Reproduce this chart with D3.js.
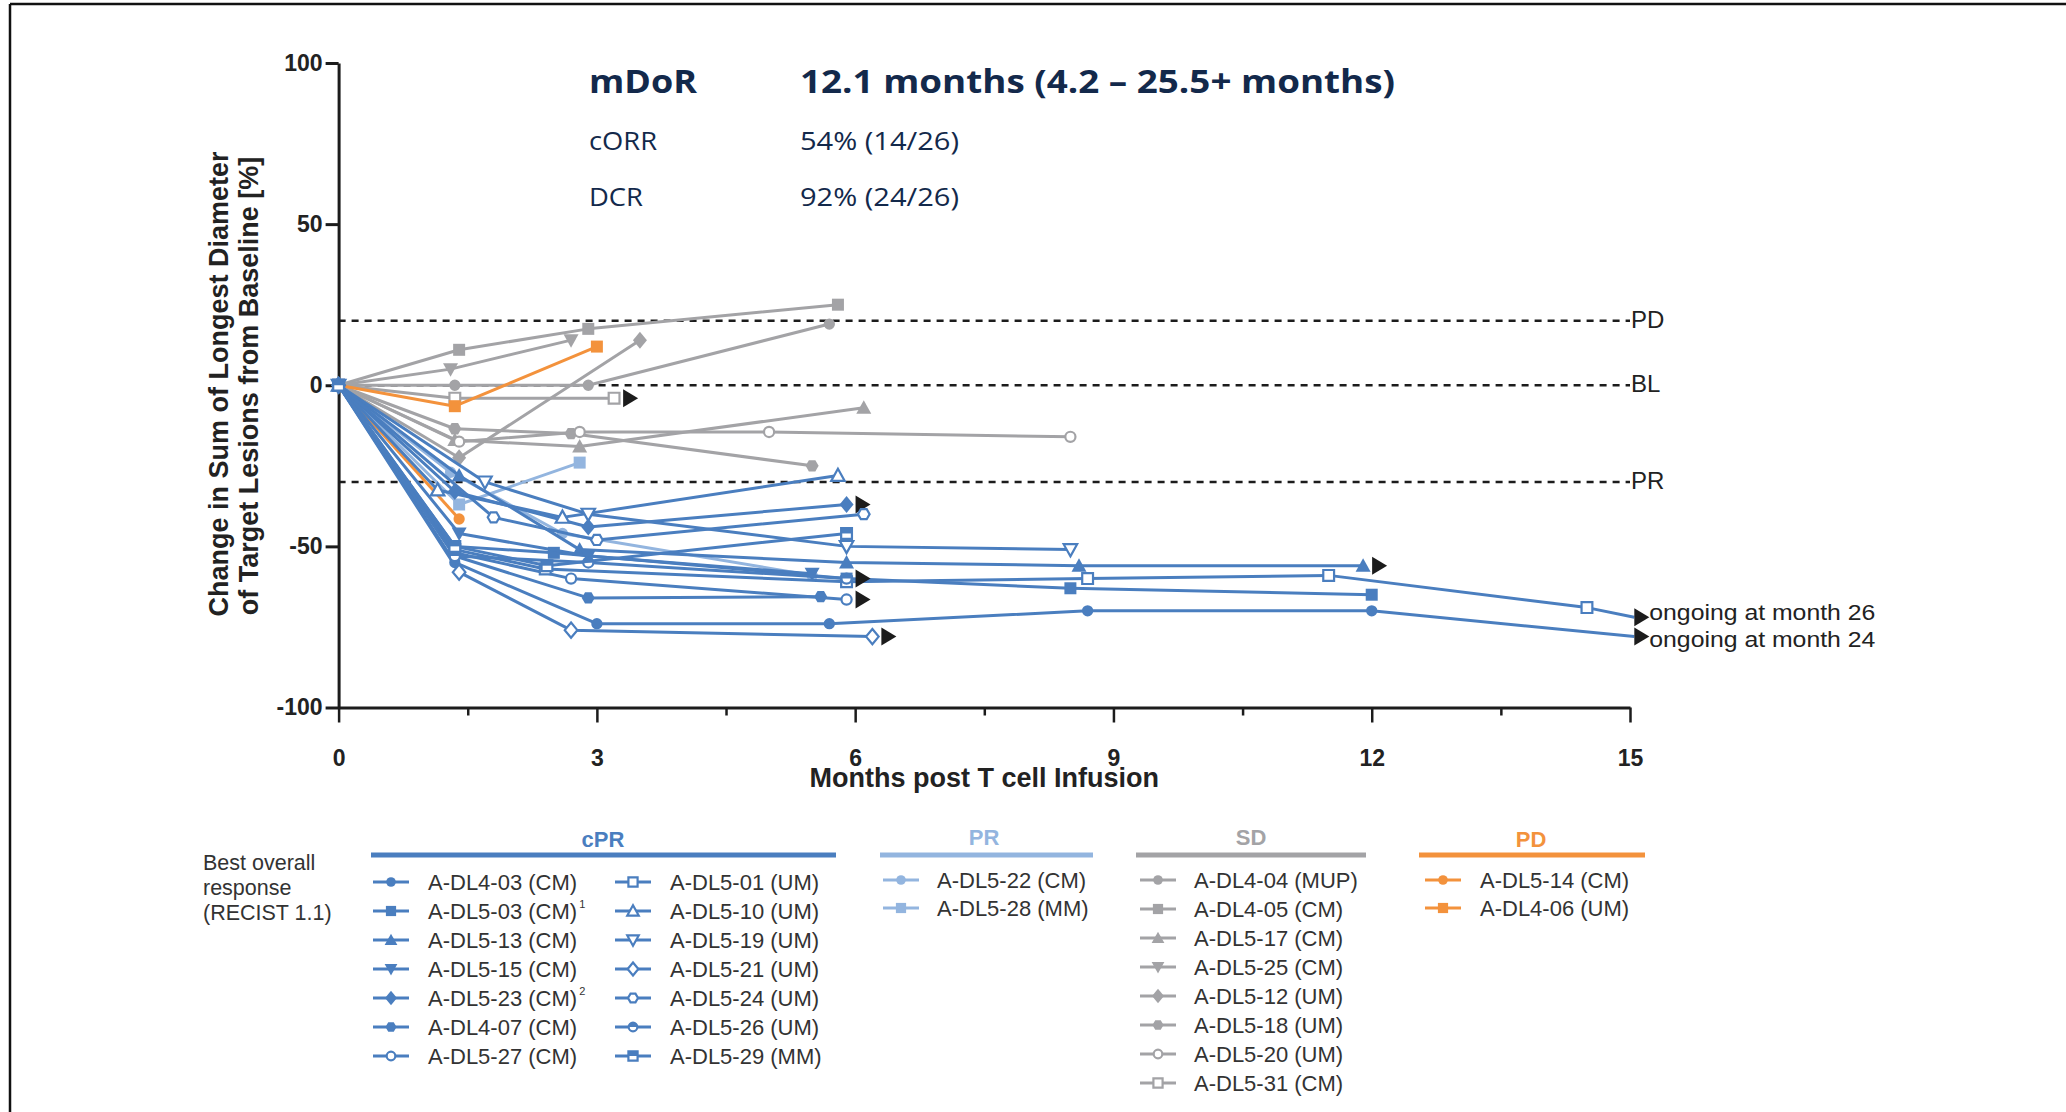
<!DOCTYPE html>
<meta charset="utf-8">
<script src="https://d3js.org/d3.v7.min.js"></script>
<style>
  html, body { margin: 0; background: #fff; }
  svg { display: block; font-family: 'Liberation Sans', Arial, sans-serif; }
</style>
<body>
<div id="chart"></div>
<script>

// ---------- data ----------
var xTicks = [0, 3, 6, 9, 12, 15]
var xMinorTicks = [1.5, 4.5, 7.5, 10.5, 13.5]
var yTicks = [100, 50, 0, -50, -100]
var refLevels = [20, 0, -30]
var refLabels = ["PD", "BL", "PR"]

var groupNames = ["cPR", "PR", "SD", "PD"]

// confirmed partial response
var cprNames = ["A-DL4-03 (CM)", "A-DL5-03 (CM)", "A-DL5-13 (CM)", "A-DL5-15 (CM)", "A-DL5-23 (CM)",
                "A-DL4-07 (CM)", "A-DL5-27 (CM)", "A-DL5-01 (UM)", "A-DL5-10 (UM)", "A-DL5-19 (UM)",
                "A-DL5-21 (UM)", "A-DL5-24 (UM)", "A-DL5-26 (UM)", "A-DL5-29 (MM)"]
var cprNotes = ["", "1", "", "", "2", "", "", "", "", "", "", "", "", ""]
var cprShapes = ["circle", "square", "triangle", "triangleDown", "diamond", "hexagon", "circle",
                 "square", "triangle", "triangleDown", "diamond", "hexagon", "circle", "square"]
var cprFills = ["filled", "filled", "filled", "filled", "filled", "filled", "open",
                "open", "open", "open", "open", "open", "half", "half"]
var cprMonths = [
  [0, 1.35, 3.0, 5.7, 8.7, 12.0, 15.05],
  [0, 1.35, 2.5, 5.9, 8.5, 12.0],
  [0, 1.4, 2.8, 5.9, 8.6, 11.9],
  [0, 1.4, 2.9, 5.5],
  [0, 1.35, 2.9, 5.9],
  [0, 1.35, 2.9, 5.6],
  [0, 1.35, 2.7, 5.9],
  [0, 1.35, 2.4, 5.9, 8.7, 11.5, 14.5, 15.05],
  [0, 1.15, 2.6, 5.8],
  [0, 1.7, 2.9, 5.9, 8.5],
  [0, 1.4, 2.7, 6.2],
  [0, 1.8, 3.0, 6.1],
  [0, 1.35, 2.9, 5.9],
  [0, 1.35, 2.42, 5.9]
]
var cprChange = [
  [0, -55, -74, -74, -70, -70, -78],
  [0, -50, -52, -60, -63, -65],
  [0, -28, -51, -55, -56, -56],
  [0, -46, -53, -58.5],
  [0, -33, -44, -37],
  [0, -53, -66, -65.6],
  [0, -52, -60, -66.5],
  [0, -51, -57, -61, -60, -59, -69, -72],
  [0, -32.5, -41, -28],
  [0, -30, -40, -50, -51],
  [0, -58, -76, -78],
  [0, -41, -48, -40],
  [0, -53, -55, -60],
  [0, -50, -56, -46]
]
var cprOngoing = [false, false, true, false, true, false, true, false, false, false, true, false, true, false]
var cprOngoingText = ["ongoing at month 24", "", "", "", "", "", "", "ongoing at month 26", "", "", "", "", "", ""]

// partial response (unconfirmed)
var prNames = ["A-DL5-22 (CM)", "A-DL5-28 (MM)"]
var prShapes = ["circle", "square"]
var prFills = ["filled", "filled"]
var prMonths = [[0, 1.3, 2.6, 5.5], [0, 1.4, 2.8]]
var prChange = [[0, -27, -46, -59], [0, -37, -24]]
var prOngoing = [false, false]

// stable disease
var sdNames = ["A-DL4-04 (MUP)", "A-DL4-05 (CM)", "A-DL5-17 (CM)", "A-DL5-25 (CM)",
               "A-DL5-12 (UM)", "A-DL5-18 (UM)", "A-DL5-20 (UM)", "A-DL5-31 (CM)"]
var sdShapes = ["circle", "square", "triangle", "triangleDown", "diamond", "hexagon", "circle", "square"]
var sdFills = ["filled", "filled", "filled", "filled", "filled", "filled", "open", "open"]
var sdMonths = [
  [0, 1.35, 2.9, 5.7],
  [0, 1.4, 2.9, 5.8],
  [0, 1.35, 2.8, 6.1],
  [0, 1.3, 2.7],
  [0, 1.4, 3.5],
  [0, 1.35, 2.7, 5.5],
  [0, 1.4, 2.8, 5.0, 8.5],
  [0, 1.35, 3.2]
]
var sdChange = [
  [0, 0, 0, 19],
  [0, 11, 17.5, 25],
  [0, -17, -19, -7],
  [0, 5, 14],
  [0, -22.5, 14],
  [0, -13.5, -15, -25],
  [0, -17.5, -14.5, -14.5, -16],
  [0, -4, -4]
]
var sdOngoing = [false, false, false, false, false, false, false, true]

// progressive disease
var pdNames = ["A-DL5-14 (CM)", "A-DL4-06 (UM)"]
var pdShapes = ["circle", "square"]
var pdFills = ["filled", "filled"]
var pdMonths = [[0, 1.4], [0, 1.35, 3.0]]
var pdChange = [[0, -41.5], [0, -6.5, 12]]
var pdOngoing = [false, false]

// ---------- layout ----------
var width = 2066
    height = 1112

var colors = { cPR: "#4a7ebf", PR: "#93b5df", SD: "#a3a3a6", PD: "#f3923c" }
var ink = "#1c1c1c"

var svg = d3.select("#chart")
  .append("svg")
    .attr("width", width)
    .attr("height", height)

svg.append("rect").attr("width", width).attr("height", height).attr("fill", "#fff")

// frame lines top and left
svg.append("line").attr("x1", 10).attr("x2", width).attr("y1", 4).attr("y2", 4)
  .attr("stroke", "#111").attr("stroke-width", 2.5)
svg.append("line").attr("x1", 10).attr("x2", 10).attr("y1", 4).attr("y2", height)
  .attr("stroke", "#111").attr("stroke-width", 2.5)

var x = d3.scaleLinear().domain([0, 15]).range([338.6, 1630])
var y = d3.scaleLinear().domain([-100, 100]).range([707.5, 63])

// ---------- marker helpers ----------
function shapePath(shape, k) {
  k = k || 1
  if (shape === "circle") return d3.symbol(d3.symbolCircle, 100 * k * k)()
  if (shape === "square") { var s = 6 * k; return "M" + -s + "," + -s + "H" + s + "V" + s + "H" + -s + "Z" }
  if (shape === "triangle") { var t = 7.5 * k; return "M0," + (-t) + "L" + t + "," + (t * 0.8) + "L" + -t + "," + (t * 0.8) + "Z" }
  if (shape === "triangleDown") { var t = 7.5 * k; return "M0," + t + "L" + t + "," + (-t * 0.8) + "L" + -t + "," + (-t * 0.8) + "Z" }
  if (shape === "diamond") { var a = 7 * k, b = 8.5 * k; return "M0," + -b + "L" + a + ",0L0," + b + "L" + -a + ",0Z" }
  if (shape === "hexagon") {
    var r = 6.5 * k, pts = d3.range(6).map(function(i) { var an = i * Math.PI / 3; return [r * Math.cos(an), r * Math.sin(an)] })
    return "M" + pts.join("L") + "Z"
  }
}

function halfPath(shape, k) {
  k = k || 1
  if (shape === "circle") { var r = 5.6 * k; return "M" + -r + ",0A" + r + "," + r + " 0 0 1 " + r + ",0Z" }
  var s = 6 * k
  return "M" + -s + "," + -s + "H" + s + "V0H" + -s + "Z"
}

function drawMarker(g, shape, fill, color, px, py, k) {
  k = k || 1
  var m = g.append("g").attr("transform", "translate(" + px + "," + py + ")")
  if (fill === "filled") {
    m.append("path").attr("d", shapePath(shape, k)).attr("fill", color)
  } else {
    m.append("path").attr("d", shapePath(shape, k * 0.9)).attr("fill", "#fff")
      .attr("stroke", color).attr("stroke-width", 2.2)
    if (fill === "half") m.append("path").attr("d", halfPath(shape, k * 0.9)).attr("fill", color)
  }
}

function arrowHead(g, px, py) {
  g.append("path")
    .attr("d", "M" + px + "," + (py - 9) + "L" + (px + 15) + "," + py + "L" + px + "," + (py + 9) + "Z")
    .attr("fill", ink)
}

// ---------- header stats ----------
var head = svg.append("g").attr("fill", "#13294b").style("font-family", "'Open Sans', 'Noto Sans', sans-serif")
head.append("text").attr("x", 589).attr("y", 93).attr("font-size", 32).attr("font-weight", 700)
  .attr("textLength", 108).attr("lengthAdjust", "spacingAndGlyphs").text("mDoR")
head.append("text").attr("x", 800).attr("y", 93).attr("font-size", 32).attr("font-weight", 700)
  .attr("textLength", 595).attr("lengthAdjust", "spacingAndGlyphs").text("12.1 months (4.2 – 25.5+ months)")
head.append("text").attr("x", 589).attr("y", 150).attr("font-size", 25)
  .attr("textLength", 68).attr("lengthAdjust", "spacingAndGlyphs").text("cORR")
head.append("text").attr("x", 800).attr("y", 150).attr("font-size", 25)
  .attr("textLength", 159).attr("lengthAdjust", "spacingAndGlyphs").text("54% (14/26)")
head.append("text").attr("x", 589).attr("y", 206).attr("font-size", 25)
  .attr("textLength", 54).attr("lengthAdjust", "spacingAndGlyphs").text("DCR")
head.append("text").attr("x", 800).attr("y", 206).attr("font-size", 25)
  .attr("textLength", 159).attr("lengthAdjust", "spacingAndGlyphs").text("92% (24/26)")

// ---------- reference lines ----------
refLevels.forEach(function(v, i) {
  svg.append("line")
    .attr("x1", x(0)).attr("x2", x(15)).attr("y1", y(v)).attr("y2", y(v))
    .attr("stroke", ink).attr("stroke-width", 2.6).attr("stroke-dasharray", "7,6")
  svg.append("text")
    .attr("x", x(15) + 1).attr("y", y(v) + 7)
    .attr("font-size", 24).attr("fill", "#222")
    .text(refLabels[i])
})

// ---------- axes ----------
var yAxis = svg.append("g")
  .attr("transform", "translate(" + x(0) + ",0)")
  .call(d3.axisLeft(y).tickValues(yTicks).tickSize(13).tickSizeOuter(0).tickPadding(3)
    .tickFormat(function(d) { return String(d) }))
yAxis.select(".domain").attr("stroke", ink).attr("stroke-width", 3)
yAxis.selectAll(".tick line").attr("stroke", ink).attr("stroke-width", 3)
yAxis.selectAll(".tick text").attr("font-size", 23).attr("font-weight", 700).attr("fill", "#222")
  .attr("font-family", "'Liberation Sans', Arial, sans-serif")

var xAxisMinor = svg.append("g")
  .attr("transform", "translate(0," + y(-100) + ")")
  .call(d3.axisBottom(x).tickValues(xMinorTicks).tickSize(8).tickSizeOuter(0).tickFormat(""))
xAxisMinor.select(".domain").remove()
xAxisMinor.selectAll(".tick line").attr("stroke", ink).attr("stroke-width", 2.5)

var xAxis = svg.append("g")
  .attr("transform", "translate(0," + y(-100) + ")")
  .call(d3.axisBottom(x).tickValues(xTicks).tickSize(15).tickSizeOuter(0).tickPadding(27))
xAxis.select(".domain").attr("stroke", ink).attr("stroke-width", 3)
xAxis.selectAll(".tick line").attr("stroke", ink).attr("stroke-width", 2.5)
xAxis.selectAll(".tick text").attr("font-size", 23).attr("font-weight", 700).attr("fill", "#222")
  .attr("font-family", "'Liberation Sans', Arial, sans-serif")

svg.append("text")
  .attr("x", (x(0) + x(15)) / 2).attr("y", 787)
  .attr("text-anchor", "middle").attr("font-size", 27).attr("font-weight", 700).attr("fill", "#222")
  .text("Months post T cell Infusion")

svg.append("text")
  .attr("transform", "translate(228,384) rotate(-90)")
  .attr("text-anchor", "middle").attr("font-size", 27).attr("font-weight", 700).attr("fill", "#222")
  .text("Change in Sum of Longest Diameter")
svg.append("text")
  .attr("transform", "translate(258,386) rotate(-90)")
  .attr("text-anchor", "middle").attr("font-size", 27).attr("font-weight", 700).attr("fill", "#222")
  .text("of Target Lesions from Baseline [%]")

// ---------- series ----------
var line = d3.line().x(function(d) { return x(d[0]) }).y(function(d) { return y(d[1]) })

var groups = [
  { key: "SD", names: sdNames, shapes: sdShapes, fills: sdFills, months: sdMonths, change: sdChange, ongoing: sdOngoing },
  { key: "PD", names: pdNames, shapes: pdShapes, fills: pdFills, months: pdMonths, change: pdChange, ongoing: pdOngoing },
  { key: "PR", names: prNames, shapes: prShapes, fills: prFills, months: prMonths, change: prChange, ongoing: prOngoing },
  { key: "cPR", names: cprNames, shapes: cprShapes, fills: cprFills, months: cprMonths, change: cprChange, ongoing: cprOngoing }
]

var plot = svg.append("g")
groups.forEach(function(gr) {
  var color = colors[gr.key]
  gr.names.forEach(function(name, i) {
    var pts = gr.months[i].map(function(m, j) { return [m, gr.change[i][j]] })
    var sg = plot.append("g").attr("class", "series")
    sg.append("path").attr("d", line(pts)).attr("fill", "none")
      .attr("stroke", color).attr("stroke-width", 3).attr("stroke-linejoin", "round")
    pts.forEach(function(p) {
      if (p[0] > 15) return
      drawMarker(sg, gr.shapes[i], gr.fills[i], color, x(p[0]), y(p[1]))
    })
    var last = pts[pts.length - 1]
    if (gr.ongoing[i]) arrowHead(sg, x(last[0]) + 9, y(last[1]))
    if (gr.key === "cPR" && cprOngoingText[i]) {
      arrowHead(sg, x(last[0]), y(last[1]))
      // the two end labels sit a little apart, as in the original
      var off = last[1] > -75 ? 3 : 10
      sg.append("text").attr("x", x(last[0]) + 15).attr("y", y(last[1]) + off)
        .attr("font-size", 22).attr("textLength", 226).attr("lengthAdjust", "spacingAndGlyphs")
        .attr("fill", "#222").text(cprOngoingText[i])
    }
  })
})

// ---------- legend ----------
var leg = svg.append("g").attr("fill", "#333")
leg.append("text").attr("font-size", 21.5)
  .selectAll("tspan").data(["Best overall", "response", "(RECIST 1.1)"]).enter()
  .append("tspan").attr("x", 203).attr("y", function(d, i) { return 870 + i * 25 }).text(function(d) { return d })

var legendBlocks = [
  { key: "cPR", cx: 603, bar: [371, 836], hy: 847 },
  { key: "PR", cx: 984, bar: [880, 1093], hy: 845 },
  { key: "SD", cx: 1251, bar: [1136, 1366], hy: 845 },
  { key: "PD", cx: 1531, bar: [1419, 1645], hy: 847 }
]
legendBlocks.forEach(function(b) {
  leg.append("text").attr("x", b.cx).attr("y", b.hy).attr("text-anchor", "middle")
    .attr("font-size", 22).attr("font-weight", 700).attr("fill", colors[b.key]).text(b.key)
  leg.append("line").attr("x1", b.bar[0]).attr("x2", b.bar[1]).attr("y1", 855).attr("y2", 855)
    .attr("stroke", colors[b.key]).attr("stroke-width", 5)
})

function legendItem(color, shape, fill, name, note, lx, tx, ry) {
  var g = leg.append("g")
  g.append("line").attr("x1", lx).attr("x2", lx + 36).attr("y1", ry).attr("y2", ry)
    .attr("stroke", color).attr("stroke-width", 3)
  drawMarker(g, shape, fill, color, lx + 18, ry, 0.85)
  var t = g.append("text").attr("x", tx).attr("y", ry + 8).attr("font-size", 22).attr("fill", "#333").text(name)
  if (note) t.append("tspan").attr("font-size", 11).attr("dx", 2).attr("dy", -11).text(note)
}

cprNames.forEach(function(n, i) {
  var col = i < 7 ? 0 : 1, row = i % 7
  legendItem(colors.cPR, cprShapes[i], cprFills[i], n, cprNotes[i],
    col ? 615 : 373, col ? 670 : 428, 882 + row * 29)
})
prNames.forEach(function(n, i) {
  legendItem(colors.PR, prShapes[i], prFills[i], n, "", 883, 937, 880 + i * 28)
})
sdNames.forEach(function(n, i) {
  legendItem(colors.SD, sdShapes[i], sdFills[i], n, "", 1140, 1194, 880 + i * 29)
})
pdNames.forEach(function(n, i) {
  legendItem(colors.PD, pdShapes[i], pdFills[i], n, "", 1425, 1480, 880 + i * 28)
})

</script>
</body>
